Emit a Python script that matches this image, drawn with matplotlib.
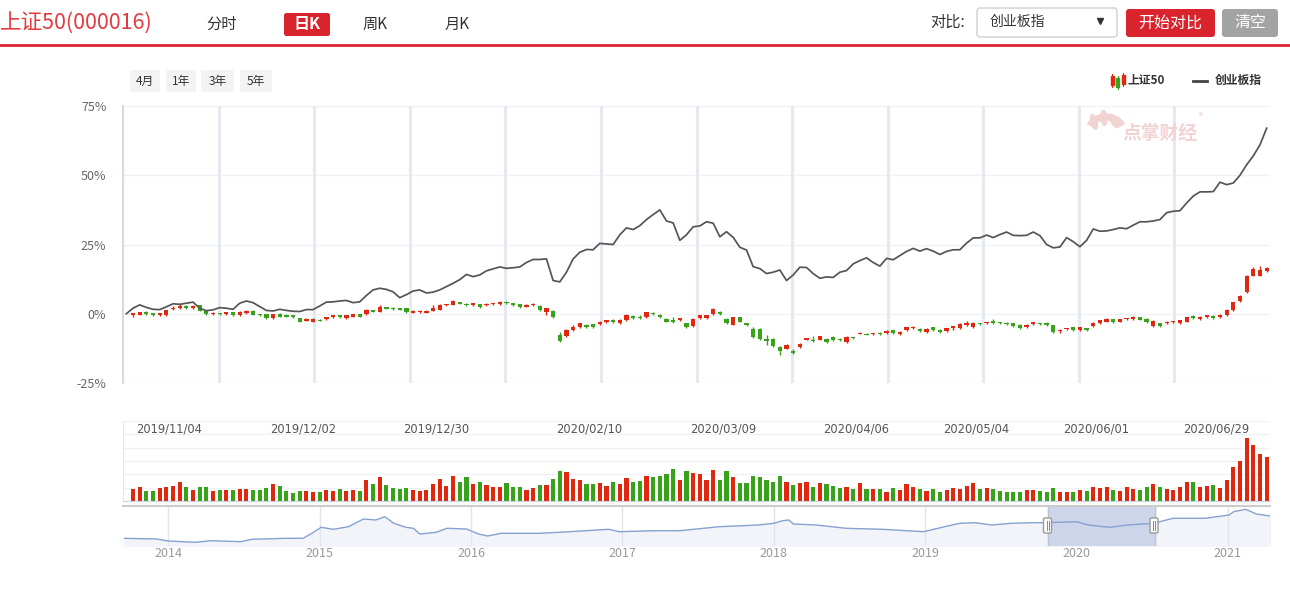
import numpy as np
import matplotlib
matplotlib.use('Agg')
import matplotlib.pyplot as plt
from matplotlib.patches import FancyBboxPatch, Rectangle, Ellipse, Arc

plt.rcParams['font.family'] = ['Noto Sans CJK SC', 'DejaVu Sans']

# ---- data (percent change vs. first day) ----
# 创业板指 comparison line, one value per trading day (index 0..171)
gem = [0.0, 2.0, 3.2, 2.3, 1.6, 1.5, 2.5, 3.6, 3.4, 3.8,
       4.2, 2.0, 1.1, 1.4, 2.2, 2.0, 1.6, 3.8, 4.6, 4.0,
       2.6, 1.2, 1.0, 1.6, 1.2, 0.9, 0.8, 1.5, 1.5, 2.8,
       4.2, 4.3, 4.6, 4.8, 4.0, 4.3, 6.6, 8.6, 9.2, 8.8,
       7.9, 5.8, 6.9, 8.2, 8.6, 7.5, 7.8, 8.6, 9.8, 11.0,
       12.3, 14.2, 13.4, 14.0, 15.5, 16.2, 16.9, 16.4, 16.6, 16.9,
       18.5, 19.6, 19.6, 19.8, 12.0, 11.5, 15.0, 19.8, 22.2, 23.2,
       23.1, 25.4, 25.2, 25.0, 28.5, 31.0, 30.4, 31.8, 34.0, 35.8,
       37.5, 33.5, 32.8, 26.5, 28.5, 31.4, 31.7, 33.2, 32.7, 27.8,
       29.6, 27.6, 24.0, 23.0, 17.0, 16.3, 14.5, 15.0, 15.8, 12.0,
       14.0, 16.8, 16.7, 14.5, 12.8, 13.3, 13.1, 15.0, 15.6, 18.0,
       19.2, 20.2, 18.5, 17.2, 20.0, 19.5, 21.0, 22.5, 23.6, 22.6,
       23.5, 22.6, 21.4, 22.5, 23.1, 23.1, 25.5, 27.4, 27.4, 28.4,
       27.5, 28.6, 29.5, 28.3, 28.2, 28.3, 29.5, 28.2, 25.0, 23.8,
       24.1, 27.5, 26.0, 24.2, 26.5, 30.6, 29.8, 29.9, 30.4, 31.0,
       30.7, 32.0, 33.2, 33.2, 33.5, 34.0, 36.5, 37.0, 37.2, 40.0,
       42.5, 44.0, 44.0, 44.1, 47.5, 46.6, 47.2, 50.0, 53.8, 57.0,
       61.0, 67.0]

# 上证50 daily candles, index 1..171
opens = [-0.6, -0.4, 0.7, 0.1, -0.6, -0.6, 1.6, 1.9, 2.9, 1.9,
         3.0, 1.1, 0.0, 0.0, -0.2, 0.5, -0.6, 0.1, 1.0, -0.4,
         -0.2, -1.7, 0.0, -0.4, -0.6, -1.6, -2.5, -2.9, -2.2, -2.0,
         -1.3, -0.6, -1.6, -1.0, -0.2, -0.1, 1.2, 0.8, 2.4, 2.2,
         2.0, 1.9, 0.4, 0.5, 0.4, 1.1, 1.4, 3.0, 3.2, 4.2,
         3.6, 3.0, 3.5, 3.0, 3.5, 3.5, 4.4, 3.8, 3.5, 2.6,
         3.0, 2.9, 0.8, 1.1, -7.8, -8.1, -5.8, -4.8, -4.0, -3.8,
         -3.8, -3.1, -2.2, -3.5, -2.4, -0.7, -1.2, -1.3, 0.2, -0.4,
         -1.9, -2.2, -2.4, -3.5, -4.6, -1.6, -1.6, -0.1, 0.8, -1.8,
         -4.0, -1.2, -3.5, -5.4, -5.4, -9.1, -9.1, -11.9, -12.6, -13.6,
         -12.1, -9.4, -9.4, -9.4, -9.1, -8.4, -9.1, -10.2, -8.5, -7.2,
         -7.3, -7.3, -7.1, -7.1, -6.0, -7.3, -5.9, -5.2, -5.5, -6.7,
         -4.9, -5.8, -6.3, -5.2, -5.2, -4.1, -4.8, -3.5, -3.5, -2.6,
         -3.2, -3.2, -3.5, -4.0, -4.8, -3.8, -3.4, -3.2, -4.2, -6.4,
         -5.5, -4.9, -5.9, -5.2, -4.6, -3.5, -2.8, -2.0, -2.9, -2.0,
         -1.9, -1.3, -1.9, -4.6, -3.4, -3.5, -3.1, -3.5, -2.8, -0.8,
         -2.0, -1.2, -0.8, -1.3, -0.6, 1.2, 4.5, 7.7, 13.8, 13.8, 15.3]
closes = [0.1, 0.6, -0.2, -0.6, 0.1, 1.3, 1.9, 2.9, 1.9, 2.9,
          1.1, -0.2, 0.3, -0.2, 0.5, -0.6, 0.8, 1.1, -0.4, -0.6,
          -1.6, -0.2, -1.0, -1.0, -1.3, -2.9, -2.0, -1.9, -2.5, -1.2,
          -0.6, -1.3, -0.6, -0.2, -1.0, 1.4, 0.8, 2.3, 1.8, 1.6,
          1.4, 0.6, 1.1, 1.0, 1.0, 2.0, 3.2, 3.5, 4.5, 3.6,
          3.0, 3.8, 2.3, 3.6, 3.8, 4.2, 3.8, 3.0, 2.4, 3.0,
          3.6, 1.2, 2.0, -1.3, -10.0, -5.8, -4.8, -3.5, -4.8, -4.8,
          -2.9, -2.3, -3.1, -2.2, -0.4, -1.6, -1.6, 0.5, -0.1, -1.3,
          -2.8, -3.1, -1.6, -4.8, -1.8, -0.6, -0.6, 1.7, -0.1, -3.5,
          -1.3, -2.8, -4.2, -8.5, -9.1, -10.0, -11.8, -13.6, -11.2, -14.2,
          -10.9, -8.8, -10.0, -8.2, -10.2, -9.6, -9.6, -8.4, -8.8, -6.9,
          -7.6, -7.1, -7.3, -6.1, -7.1, -6.5, -4.9, -4.7, -6.4, -5.4,
          -5.9, -6.6, -5.3, -4.5, -3.7, -3.2, -3.2, -3.7, -3.1, -3.4,
          -3.5, -3.8, -4.5, -5.2, -4.0, -3.1, -3.7, -4.2, -6.7, -5.7,
          -5.2, -5.9, -4.9, -5.9, -3.2, -2.4, -1.9, -3.1, -2.0, -1.6,
          -1.0, -2.2, -3.1, -2.5, -4.6, -2.8, -2.8, -2.4, -1.2, -1.6,
          -1.1, -0.6, -1.6, -0.4, 1.4, 4.1, 6.5, 13.8, 16.1, 15.9, 16.5]
highs = [0.3, 0.8, 0.9, 0.3, 0.3, 1.5, 2.8, 3.4, 3.1, 3.1,
         3.2, 1.3, 0.8, 0.2, 0.7, 0.7, 1.0, 1.4, 1.2, -0.2,
         0.0, 0.0, 0.2, -0.2, -0.4, -1.4, -1.7, -1.7, -2.0, -1.0,
         -0.4, -0.4, -0.4, 0.0, 0.0, 1.6, 1.4, 3.0, 2.6, 2.4,
         2.2, 2.1, 1.3, 1.2, 1.2, 3.0, 3.4, 3.7, 4.9, 4.4,
         3.8, 4.0, 3.7, 3.8, 4.0, 4.6, 4.7, 4.0, 3.7, 3.5,
         3.8, 3.1, 2.2, 1.3, -6.6, -5.6, -4.1, -3.3, -3.8, -3.6,
         -2.7, -2.1, -2.0, -2.0, -0.2, -0.5, -0.6, 0.8, 0.5, -0.2,
         -1.7, -1.2, -1.4, -3.2, -1.5, -0.4, -0.4, 1.9, 1.0, -1.6,
         -1.1, -1.0, -3.3, -4.9, -5.2, -7.6, -8.8, -11.6, -11.0, -12.8,
         -10.7, -8.6, -8.2, -8.0, -8.9, -8.2, -8.9, -8.2, -8.3, -6.5,
         -7.1, -6.9, -6.5, -5.9, -5.8, -6.3, -4.7, -4.5, -5.3, -5.2,
         -4.7, -5.6, -5.1, -4.3, -3.5, -2.7, -3.0, -3.3, -2.9, -2.0,
         -3.0, -3.0, -3.3, -3.8, -3.8, -2.9, -3.2, -3.0, -4.0, -5.5,
         -5.0, -4.7, -4.7, -5.0, -3.0, -2.2, -1.4, -1.8, -1.8, -1.4,
         -0.8, -1.1, -1.7, -2.3, -3.2, -2.6, -2.6, -2.2, -1.0, -0.3,
         -0.9, -0.4, -0.6, -0.2, 1.6, 4.3, 6.7, 14.0, 17.0, 17.1, 16.9]
lows = [-1.0, -0.6, -0.4, -0.8, -0.8, -0.8, 1.4, 1.7, 1.7, 1.7,
        0.9, -0.4, -0.3, -0.4, -0.4, -0.8, -0.8, -0.1, -0.6, -0.8,
        -1.8, -1.9, -1.2, -1.2, -1.5, -3.1, -2.7, -3.1, -2.7, -2.2,
        -1.5, -1.5, -1.8, -1.2, -1.2, -0.3, 0.6, 0.6, 1.6, 1.4,
        1.2, 0.4, 0.2, 0.3, 0.2, 0.9, 1.2, 2.8, 3.0, 3.4,
        2.8, 2.8, 2.1, 2.8, 3.3, 3.2, 3.6, 2.8, 2.2, 2.4,
        2.8, 1.0, -0.4, -1.5, -10.2, -8.3, -6.2, -5.0, -5.0, -5.0,
        -4.0, -3.3, -3.3, -3.7, -2.6, -1.8, -1.8, -1.5, -0.3, -1.5,
        -3.0, -3.3, -2.6, -5.0, -4.8, -1.8, -1.8, -0.3, -0.3, -3.7,
        -4.2, -3.0, -4.4, -8.7, -9.3, -11.3, -12.0, -15.0, -12.8, -14.4,
        -12.3, -9.6, -10.2, -9.6, -10.4, -9.8, -9.8, -10.4, -9.0, -7.4,
        -7.8, -7.5, -7.5, -7.3, -7.3, -7.5, -6.1, -5.4, -6.6, -6.9,
        -6.1, -6.8, -6.5, -5.9, -5.4, -4.3, -5.0, -3.9, -3.7, -3.6,
        -3.7, -4.0, -4.7, -5.4, -5.0, -4.0, -3.9, -4.4, -6.9, -6.9,
        -5.7, -6.1, -6.1, -6.1, -4.8, -3.7, -3.0, -3.3, -3.1, -2.2,
        -2.1, -2.4, -3.3, -4.8, -4.8, -3.7, -3.3, -3.7, -3.0, -1.8,
        -2.2, -1.4, -1.8, -1.5, -0.8, 1.0, 4.3, 7.5, 13.6, 13.6, 15.0]
volumes = [12, 14, 10, 10, 13, 14, 15, 19, 14, 11,
           14, 14, 10, 11, 11, 11, 12, 12, 11, 11,
           13, 17, 15, 10, 8, 10, 10, 9, 9, 11,
           10, 12, 10, 11, 10, 21, 17, 24, 16, 13,
           12, 13, 11, 10, 11, 17, 22, 15, 25, 19,
           24, 17, 19, 16, 14, 14, 18, 14, 14, 11,
           13, 16, 16, 22, 30, 29, 22, 21, 17, 17,
           18, 15, 19, 17, 23, 19, 20, 25, 24, 25,
           27, 32, 21, 30, 28, 27, 21, 31, 21, 30,
           24, 18, 18, 25, 24, 21, 19, 25, 19, 16,
           18, 19, 14, 18, 17, 15, 13, 14, 12, 18,
           12, 12, 12, 9, 13, 11, 17, 14, 12, 10,
           12, 9, 11, 13, 12, 15, 18, 12, 13, 12,
           10, 9, 9, 9, 11, 11, 10, 9, 13, 9,
           9, 9, 11, 10, 14, 13, 14, 11, 10, 14,
           12, 11, 14, 17, 14, 12, 11, 14, 19, 19,
           14, 15, 16, 13, 21, 34, 40, 63, 56, 47, 44]

vol_label_dates = ['2019/11/04', '2019/12/02', '2019/12/30', '2020/02/10', '2020/03/09',
                   '2020/04/06', '2020/05/04', '2020/06/01', '2020/06/29']
vol_label_idx = [2, 22, 42, 65, 85, 105, 123, 141, 159]

yticks = [-25, 0, 25, 50, 75]
ytick_labels = ['-25%', '0%', '25%', '50%', '75%']

# navigator: 上证50 long history
nav_years = [2013.71, 2013.92, 2014.00, 2014.18, 2014.28, 2014.48, 2014.55, 2014.78, 2014.89, 2014.94,
             2015.01, 2015.09, 2015.19, 2015.29, 2015.37, 2015.43, 2015.49, 2015.57, 2015.62, 2015.66,
             2015.77, 2015.84, 2015.97, 2016.05, 2016.11, 2016.20, 2016.45, 2016.62, 2016.91, 2016.98,
             2017.21, 2017.38, 2017.64, 2017.90, 2018.00, 2018.06, 2018.10, 2018.13, 2018.28, 2018.48,
             2018.72, 2018.99, 2019.13, 2019.23, 2019.33, 2019.44, 2019.57, 2019.71, 2019.80, 2020.00,
             2020.08, 2020.22, 2020.34, 2020.51, 2020.64, 2020.85, 2021.01, 2021.04, 2021.12, 2021.19,
             2021.28]
nav_vals = [1665, 1609, 1449, 1345, 1473, 1393, 1585, 1665, 1665, 2009,
            2545, 2385, 2593, 3209, 3129, 3393, 2865, 2545, 2465, 2009,
            2145, 2465, 2409, 2009, 1849, 2065, 2065, 2169, 2385, 2193,
            2273, 2273, 2593, 2729, 2865, 3073, 3129, 2809, 2729, 2465,
            2385, 2193, 2593, 2865, 2913, 2729, 2865, 2913, 2913, 2993,
            2729, 2545, 2729, 2865, 3265, 3265, 3529, 3793, 3985, 3609,
            3449]
nav_window = (2019.81, 2020.52)
years = [2014, 2015, 2016, 2017, 2018, 2019, 2020, 2021]

RED = '#e0280f'
GREEN = '#38a31a'
HEAD_RED = '#d9232d'
MARK = '#f2d3d3'

W, H = 1290, 595
fig = plt.figure(figsize=(W / 100, H / 100), dpi=100)


def px_axes(x0, y0, x1, y1):
    return fig.add_axes([x0 / W, 1 - y1 / H, (x1 - x0) / W, (y1 - y0) / H])


# ---- main chart ----
ax = px_axes(123, 106, 1270, 383)
n = len(gem)
xlim = (-0.5, n - 0.5)
ax.set_xlim(*xlim)
ax.set_ylim(-25, 75)
for s in ['top', 'right', 'bottom']:
    ax.spines[s].set_visible(False)
ax.spines['left'].set_color('#d3dbe7')
ax.spines['left'].set_linewidth(1.5)
ax.set_yticks(yticks)
ax.set_yticklabels(ytick_labels)
ax.tick_params(axis='y', length=0, pad=12, labelsize=9, labelcolor='#666')
ax.set_xticks([])
for v in yticks:
    ax.axhline(v, color='#eef1f5', lw=1, zorder=0)
for xv in np.linspace(xlim[0], xlim[1], 13)[1:-1]:
    ax.axvline(xv, color='#e6eaf0', lw=2.2, zorder=0)

idx = np.arange(1, len(opens) + 1)
o = np.array(opens)
c = np.array(closes)
cols = [RED if cc >= oo else GREEN for oo, cc in zip(o, c)]
ax.vlines(idx, lows, highs, colors=cols, lw=1, zorder=2)
body = np.where(np.abs(c - o) < 0.35, 0.35, np.abs(c - o))
ax.bar(idx, body, bottom=np.minimum(o, c), width=0.64, color=cols, lw=0, zorder=3)
ax.plot(np.arange(n), gem, color='#555555', lw=1.25, zorder=4)

# ---- volume ----
av = px_axes(123, 421, 1270, 501)
av.set_xlim(*xlim)
av.set_ylim(0, 80)
for s in ['top', 'right']:
    av.spines[s].set_visible(False)
av.spines['left'].set_color('#e3e8ef')
av.spines['bottom'].set_color('#c9d3e2')
av.set_xticks([])
av.set_yticks([])
for v in np.linspace(0, 80, 7)[1:]:
    av.axhline(v, color='#eef1f5', lw=1, zorder=0)
av.bar(idx, volumes, width=0.62, color=cols, lw=0)
for d, i in zip(vol_label_dates, vol_label_idx):
    av.text(i - 0.5, 0.9, d, transform=av.get_xaxis_transform(), ha='left', va='center',
            fontsize=8.3, color='#555', family='DejaVu Sans')

# ---- navigator ----
an = px_axes(123, 506, 1270, 546)
an.set_xlim(2013.70, 2021.28)
an.set_ylim(1049, 4249)
for s in ['right', 'bottom', 'left']:
    an.spines[s].set_visible(False)
an.spines['top'].set_color('#cccccc')
an.spines['top'].set_linewidth(1.5)
an.set_yticks([])
an.set_xticks(years)
an.set_xticklabels([str(y) for y in years])
an.tick_params(axis='x', length=0, pad=1, labelsize=9, labelcolor='#999')
an.grid(axis='x', color='#e2e5eb', lw=1)
an.fill_between(nav_years, nav_vals, 1049, color='#f2f4fa', zorder=1)
an.axvspan(*nav_window, color='#ccd5e9', zorder=2)
an.axvline(nav_window[0], color='#bfc5d0', lw=1, zorder=2)
an.axvline(nav_window[1], color='#bfc5d0', lw=1, zorder=2)
an.plot(nav_years, nav_vals, color='#87a2cf', lw=1, zorder=3)

# ---- overlay in pixel coordinates: header, buttons, legend, handles ----
ov = fig.add_axes([0, 0, 1, 1], zorder=10)
ov.set_xlim(0, W)
ov.set_ylim(H, 0)
ov.axis('off')
ov.patch.set_alpha(0)


def box(x0, y0, x1, y1, fc, ec='none', r=2.5, lw=1):
    ov.add_patch(FancyBboxPatch((x0, y0), x1 - x0, y1 - y0,
                                boxstyle=f'round,pad=0,rounding_size={r}',
                                fc=fc, ec=ec, lw=lw))


ov.text(0, 24, '上证50(000016)', color='#e23b3f', fontsize=15.5, va='center', ha='left')
ov.text(222, 24, '分时', color='#333', fontsize=11, va='center', ha='center')
box(284, 13, 330, 36, HEAD_RED)
ov.text(307, 24.5, '日K', color='white', fontsize=11.5, va='center', ha='center', weight='bold')
ov.text(375, 24, '周K', color='#333', fontsize=11, va='center', ha='center')
ov.text(457, 24, '月K', color='#333', fontsize=11, va='center', ha='center')
ov.plot([0, W], [45, 45], color=HEAD_RED, lw=2)

ov.text(948, 22, '对比:', color='#333', fontsize=11, va='center', ha='center')
box(977, 8, 1117, 37, 'white', ec='#cfcfcf', r=3)
ov.text(990, 22, '创业板指', color='#333', fontsize=10, va='center', ha='left')
ov.plot([1100], [21], marker='v', ms=5, color='#333')
box(1126, 9, 1215, 37, HEAD_RED, r=3)
ov.text(1170.5, 23, '开始对比', color='white', fontsize=11.5, va='center', ha='center')
box(1222, 9, 1278, 37, '#a3a3a3', r=3)
ov.text(1250, 23, '清空', color='white', fontsize=11.5, va='center', ha='center')

for (x0, x1), lab in zip([(130, 160), (166, 196), (201, 234), (240, 272)], ['4月', '1年', '3年', '5年']):
    box(x0, 70, x1, 92, '#f3f3f3', r=1.5)
    ov.text((x0 + x1) / 2, 81, lab, color='#333', fontsize=8.5, va='center', ha='center')

# legend
for xc, col, top, bot in [(1112, RED, 76, 85), (1117.5, GREEN, 78, 87), (1123, RED, 75, 84)]:
    ov.plot([xc, xc], [top - 2, bot + 2], color=col, lw=0.8)
    ov.add_patch(Rectangle((xc - 1.5, top), 3, bot - top, color=col))
ov.text(1128, 80.5, '上证50', color='#333', fontsize=8.5, va='center', ha='left', weight='bold')
ov.plot([1193, 1207], [80.5, 80.5], color='#444', lw=2)
ov.text(1215, 80.5, '创业板指', color='#333', fontsize=8.5, va='center', ha='left', weight='bold')

# watermark: hand logo drawn as shapes, then the brand text
for (ex, ey, ang) in [(1094, 122, 75), (1104, 118, 85), (1114, 121, 60)]:
    ov.add_patch(Ellipse((ex, ey), 15, 6, angle=ang, color=MARK))
ov.add_patch(Arc((1106, 130), 34, 26, theta1=195, theta2=345, color=MARK, lw=5))
ov.text(1160, 133, '点掌财经', color=MARK, fontsize=13.5, va='center', ha='center', weight='bold')
ov.text(1201, 117, '®', color=MARK, fontsize=6, va='center', ha='center')

# navigator handles
for xh in [1047.5, 1154]:
    box(xh - 4, 518, xh + 4, 533, 'white', ec='#9a9a9a', r=1.5)
    ov.plot([xh - 1, xh - 1], [521, 530], color='#888', lw=0.7)
    ov.plot([xh + 1, xh + 1], [521, 530], color='#888', lw=0.7)

fig.savefig('out.png', dpi=100, facecolor='white')
